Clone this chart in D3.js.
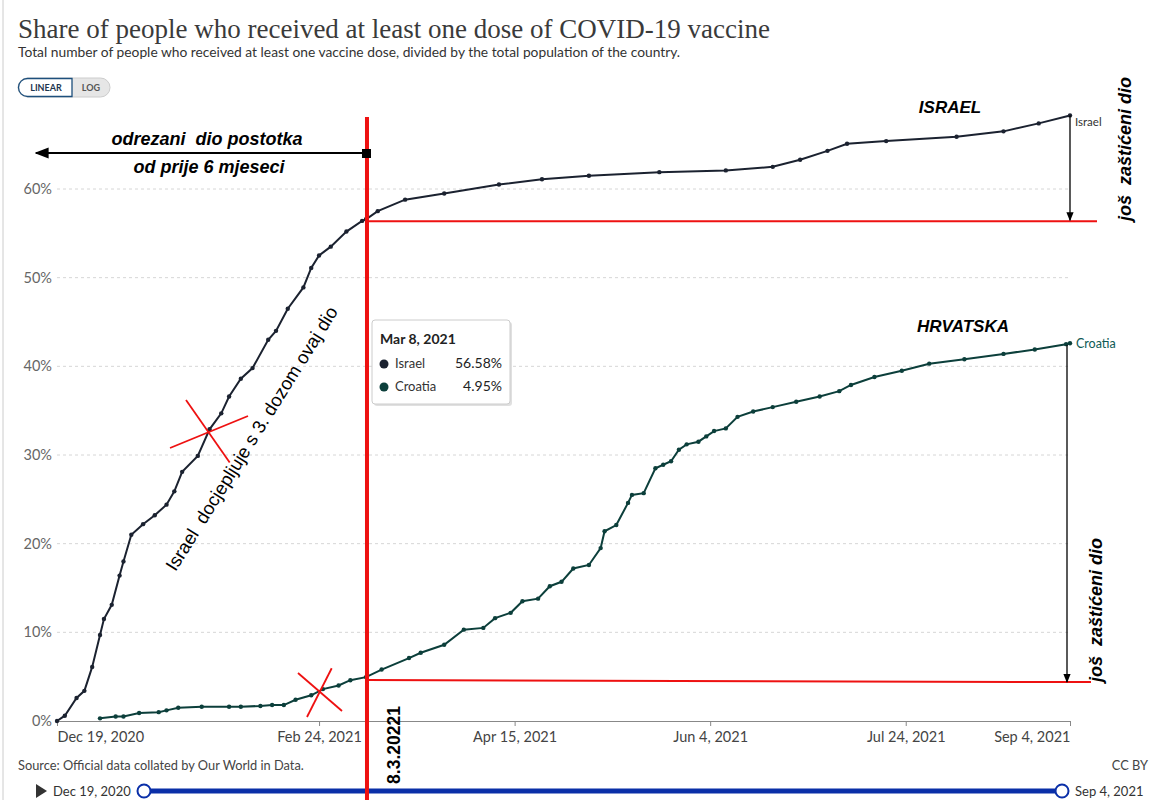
<!DOCTYPE html>
<html lang="en">
<head>
  <meta charset="UTF-8">
  <title>Share of people who received at least one dose of COVID-19 vaccine</title>
  <style>
    body, html {
      margin: 0;
      background-color: #fff;
    }
    #svg {
      display: block;
      font-family: Lato, sans-serif;
    }
  </style>
</head>
<body>
  <svg id="svg" width="1160" height="800"></svg>
  <script src="https://cdn.jsdelivr.net/npm/d3@7"></script>
  <script>
    // values (percent of population)
    const israelDates = ['2020-12-19', '2020-12-21', '2020-12-24', '2020-12-26', '2020-12-28', '2020-12-30',
      '2020-12-31', '2021-01-02', '2021-01-04', '2021-01-05', '2021-01-07', '2021-01-10', '2021-01-13',
      '2021-01-16', '2021-01-18', '2021-01-20', '2021-01-24', '2021-01-27', '2021-01-30', '2021-02-01',
      '2021-02-04', '2021-02-07', '2021-02-11', '2021-02-13', '2021-02-16', '2021-02-20', '2021-02-22',
      '2021-02-24', '2021-02-27', '2021-03-03', '2021-03-07', '2021-03-08', '2021-03-11', '2021-03-18',
      '2021-03-28', '2021-04-11', '2021-04-22', '2021-05-04', '2021-05-22', '2021-06-08', '2021-06-20',
      '2021-06-27', '2021-07-04', '2021-07-09', '2021-07-19', '2021-08-06', '2021-08-18', '2021-08-27',
      '2021-09-04']
    const israelValues = [0, 0.6, 2.6, 3.4, 6.1, 9.7,
      11.5, 13.1, 16.4, 18.0, 21.0, 22.2, 23.2,
      24.4, 25.9, 28.1, 29.9, 32.9, 34.7, 36.6,
      38.6, 39.8, 43.0, 44.0, 46.5, 48.9, 51.1,
      52.5, 53.5, 55.2, 56.4, 56.58, 57.5, 58.8,
      59.5, 60.5, 61.1, 61.5, 61.9, 62.1, 62.5,
      63.3, 64.3, 65.1, 65.4, 65.9, 66.5, 67.4,
      68.3]

    const croatiaDates = ['2020-12-30', '2021-01-03', '2021-01-05', '2021-01-09', '2021-01-14', '2021-01-16',
      '2021-01-19', '2021-01-25', '2021-02-01', '2021-02-04', '2021-02-09', '2021-02-12', '2021-02-15',
      '2021-02-18', '2021-02-22', '2021-02-25', '2021-03-01', '2021-03-04', '2021-03-08', '2021-03-12',
      '2021-03-19', '2021-03-22', '2021-03-28', '2021-04-02', '2021-04-07', '2021-04-10', '2021-04-14',
      '2021-04-17', '2021-04-21', '2021-04-24', '2021-04-27', '2021-04-30', '2021-05-04', '2021-05-07',
      '2021-05-08', '2021-05-11', '2021-05-14', '2021-05-15', '2021-05-18', '2021-05-21', '2021-05-23',
      '2021-05-25', '2021-05-27', '2021-05-29', '2021-06-01', '2021-06-03', '2021-06-05', '2021-06-08',
      '2021-06-11', '2021-06-15', '2021-06-20', '2021-06-26', '2021-07-02', '2021-07-07', '2021-07-10',
      '2021-07-16', '2021-07-23', '2021-07-30', '2021-08-08', '2021-08-18', '2021-08-26', '2021-09-03',
      '2021-09-04']
    const croatiaValues = [0.3, 0.5, 0.5, 0.9, 1.0, 1.2,
      1.5, 1.6, 1.6, 1.6, 1.7, 1.8, 1.8,
      2.4, 2.9, 3.6, 4.0, 4.6, 4.95, 5.8,
      7.1, 7.7, 8.6, 10.3, 10.5, 11.6, 12.2,
      13.5, 13.8, 15.2, 15.7, 17.2, 17.6, 19.5,
      21.4, 22.1, 24.6, 25.5, 25.7, 28.5, 28.9,
      29.3, 30.6, 31.2, 31.5, 32.1, 32.7, 33.0,
      34.3, 34.9, 35.4, 36.0, 36.6, 37.2, 37.9,
      38.8, 39.5, 40.3, 40.8, 41.4, 41.9, 42.5,
      42.6]

    const yTicks = [0, 10, 20, 30, 40, 50, 60]
    const xTickDates = ['2020-12-19', '2021-02-24', '2021-04-15', '2021-06-04', '2021-07-24', '2021-09-04']
    const markedDate = '2021-03-08'

    const parse = d3.timeParse('%Y-%m-%d')
    const fmt = d3.timeFormat('%b %-d, %Y')
    const israel = israelDates.map((d, i) => ({ date: parse(d), value: israelValues[i] }))
    const croatia = croatiaDates.map((d, i) => ({ date: parse(d), value: croatiaValues[i] }))

    const xScale = d3.scaleTime()
      .domain([parse(xTickDates[0]), parse(xTickDates[xTickDates.length - 1])])
      .range([57, 1070])
    const yScale = d3.scaleLinear()
      .domain([0, 60])
      .range([721, 189])

    const svg = d3.select('#svg')

    // frame edge on the left
    svg.append('line').attr('x1', 3).attr('x2', 3).attr('y1', 0).attr('y2', 800)
      .attr('stroke', '#ccc')

    // title + subtitle
    svg.append('text').attr('x', 18).attr('y', 38)
      .text('Share of people who received at least one dose of COVID-19 vaccine')
      .style('font-family', '"Liberation Serif", serif')
      .style('font-size', '27px')
      .attr('fill', '#3a3a3a')
    svg.append('text').attr('x', 18).attr('y', 57)
      .text('Total number of people who received at least one vaccine dose, divided by the total population of the country.')
      .style('font-size', '13.8px')
      .attr('fill', '#333')

    // linear / log toggle
    const tog = svg.append('g').attr('transform', 'translate(18,78)')
    tog.append('rect').attr('x', 0).attr('y', 0).attr('width', 92).attr('height', 19).attr('rx', 9.5)
      .attr('fill', '#e6e6e6').attr('stroke', '#ccc')
    tog.append('path').attr('d', 'M54,0.5 H9.5 A9,9 0 0 0 9.5,18.5 H54 Z')
      .attr('fill', '#fff').attr('stroke', '#1d4f7c').attr('stroke-width', 1.3)
    tog.append('text').attr('x', 28).attr('y', 13).attr('text-anchor', 'middle').text('LINEAR')
      .style('font-size', '9px').style('font-weight', 'bold').attr('fill', '#1d3650')
    tog.append('text').attr('x', 73).attr('y', 13).attr('text-anchor', 'middle').text('LOG')
      .style('font-size', '9px').style('font-weight', 'bold').attr('fill', '#555')

    // gridlines + y labels
    svg.append('g').selectAll('line')
      .data(yTicks.filter(d => d > 0))
      .enter().append('line')
      .attr('x1', 57).attr('x2', 1070)
      .attr('y1', d => yScale(d)).attr('y2', d => yScale(d))
      .attr('stroke', '#d6d6d6').attr('stroke-dasharray', '3,3')
    svg.append('g').selectAll('text')
      .data(yTicks)
      .enter().append('text')
      .attr('x', 52).attr('y', d => yScale(d) + 5)
      .attr('text-anchor', 'end')
      .text(d => d + '%')
      .style('font-size', '14.5px').attr('fill', '#666')

    // x axis
    const xTicks = xTickDates.map(parse)
    const bottomAxis = d3.axisBottom(xScale)
      .tickValues(xTicks)
      .tickFormat(fmt)
      .tickSize(5)
      .tickPadding(6)
    const xg = svg.append('g')
      .attr('transform', `translate(0, ${yScale(0)})`)
      .call(bottomAxis)
    xg.select('.domain').attr('stroke', '#888')
    xg.selectAll('.tick line').attr('stroke', '#888')
    xg.selectAll('.tick text')
      .style('font-family', 'Lato, sans-serif')
      .style('font-size', '14.5px')
      .attr('fill', '#444')
      .attr('text-anchor', (d, i) => i === 0 ? 'start' : (i === xTicks.length - 1 ? 'end' : 'middle'))

    // series lines with point markers
    const line = d3.line().x(d => xScale(d.date)).y(d => yScale(d.value))
    const series = [
      { name: 'Israel', data: israel, color: '#1b2230' },
      { name: 'Croatia', data: croatia, color: '#0c3f3b' }
    ]
    series.forEach(s => {
      svg.append('path').datum(s.data)
        .attr('d', line)
        .attr('fill', 'none')
        .attr('stroke', s.color)
        .attr('stroke-width', 2)
      svg.append('g').selectAll('circle')
        .data(s.data)
        .enter().append('circle')
        .attr('cx', d => xScale(d.date))
        .attr('cy', d => yScale(d.value))
        .attr('r', 2.2)
        .attr('fill', s.color)
    })

    // end labels
    const lastI = israel[israel.length - 1]
    const lastC = croatia[croatia.length - 1]
    svg.append('text').attr('x', xScale(lastI.date) + 5).attr('y', yScale(lastI.value) + 11)
      .text('Israel').style('font-size', '11.5px').attr('fill', '#333')
    svg.append('text').attr('x', xScale(lastC.date) + 6).attr('y', yScale(lastC.value) + 5)
      .text('Croatia').style('font-size', '12.5px').attr('fill', '#0e5a55')

    // source + licence
    svg.append('text').attr('x', 18).attr('y', 770)
      .text('Source: Official data collated by Our World in Data.')
      .style('font-size', '12.8px').attr('fill', '#444')
    svg.append('text').attr('x', 1148).attr('y', 770).attr('text-anchor', 'end')
      .text('CC BY').style('font-size', '12.8px').attr('fill', '#444')

    // timeline slider
    const tl = xScale.domain()
    const slider = d3.scaleTime().domain(tl).range([144, 1062])
    svg.append('path').attr('d', 'M36,784 L47,791 L36,798 Z').attr('fill', '#333')
    svg.append('text').attr('x', 53).attr('y', 796).text(fmt(tl[0]))
      .style('font-size', '13px').attr('fill', '#333')
    svg.append('line').attr('x1', slider(tl[0])).attr('x2', slider(tl[1]))
      .attr('y1', 791).attr('y2', 791)
      .attr('stroke', '#0a2fa8').attr('stroke-width', 5)
    svg.append('g').selectAll('circle')
      .data(tl)
      .enter().append('circle')
      .attr('cx', d => slider(d)).attr('cy', 791).attr('r', 6.5)
      .attr('fill', '#fff').attr('stroke', '#0a2fa8').attr('stroke-width', 2)
    svg.append('text').attr('x', 1075).attr('y', 796).text(fmt(tl[1]))
      .style('font-size', '13px').attr('fill', '#333')

    // ---- hand-drawn annotations ----
    const mDate = parse(markedDate)
    const mx = xScale(mDate)
    const iAt = israel.find(d => +d.date === +mDate).value
    const cAt = croatia.find(d => +d.date === +mDate).value
    const red = '#ee1111'

    // horizontal levels at the marked date
    svg.append('line').attr('x1', mx).attr('x2', 1097)
      .attr('y1', yScale(iAt) + 2).attr('y2', yScale(iAt) + 2)
      .attr('stroke', red).attr('stroke-width', 2)
    svg.append('line').attr('x1', mx).attr('x2', 1091)
      .attr('y1', yScale(cAt) + 3).attr('y2', yScale(cAt) + 5)
      .attr('stroke', red).attr('stroke-width', 2)

    // vertical arrows down to those levels
    const defs = svg.append('defs')
    defs.append('marker').attr('id', 'ah').attr('viewBox', '0 0 10 10')
      .attr('refX', 9).attr('refY', 5).attr('markerWidth', 7).attr('markerHeight', 7)
      .attr('orient', 'auto-start-reverse')
      .append('path').attr('d', 'M0,1 L10,5 L0,9 Z').attr('fill', '#000')
    svg.append('line')
      .attr('x1', xScale(lastI.date)).attr('x2', xScale(lastI.date))
      .attr('y1', yScale(lastI.value)).attr('y2', yScale(iAt) + 1)
      .attr('stroke', '#000').attr('stroke-width', 1.3).attr('marker-end', 'url(#ah)')
    svg.append('line')
      .attr('x1', xScale(lastC.date) - 3).attr('x2', xScale(lastC.date) - 3)
      .attr('y1', yScale(lastC.value) + 2).attr('y2', yScale(cAt) + 5)
      .attr('stroke', '#000').attr('stroke-width', 1.3).attr('marker-end', 'url(#ah)')

    // tooltip box
    const tip = svg.append('g').attr('transform', 'translate(372,320)')
    tip.append('rect').attr('x', 2).attr('y', 2).attr('width', 138).attr('height', 84).attr('rx', 3)
      .attr('fill', '#000').attr('opacity', 0.12)
    tip.append('rect').attr('width', 138).attr('height', 84).attr('rx', 3)
      .attr('fill', '#fff').attr('stroke', '#ccc')
    tip.append('text').attr('x', 8).attr('y', 24).text(fmt(mDate))
      .style('font-size', '14px').style('font-weight', 'bold').attr('fill', '#222')
    const rows = [{ name: 'Israel', v: iAt, color: '#1b2230' }, { name: 'Croatia', v: cAt, color: '#0c3f3b' }]
    rows.forEach((r, i) => {
      const yy = 48 + i * 23
      tip.append('circle').attr('cx', 12).attr('cy', yy - 4).attr('r', 4.5).attr('fill', r.color)
      tip.append('text').attr('x', 23).attr('y', yy).text(r.name)
        .style('font-size', '13px').attr('fill', '#333')
      tip.append('text').attr('x', 130).attr('y', yy).attr('text-anchor', 'end')
        .text(r.v.toFixed(2) + '%').style('font-size', '14px').attr('fill', '#222')
    })

    // red marker line for the chosen date
    svg.append('line').attr('x1', mx + 1).attr('x2', mx + 1).attr('y1', 117).attr('y2', 800)
      .attr('stroke', red).attr('stroke-width', 4)

    // black arrow to the left
    svg.append('line').attr('x1', mx).attr('x2', 36).attr('y1', 153).attr('y2', 153)
      .attr('stroke', '#000').attr('stroke-width', 2).attr('marker-end', 'url(#ah)')
    svg.append('rect').attr('x', mx - 4).attr('y', 149).attr('width', 9).attr('height', 9).attr('fill', '#000')

    const ann = (x, y, txt, size, rot, extra) => {
      const t = svg.append('text')
        .attr('transform', `translate(${x},${y}) rotate(${rot || 0})`)
        .attr('text-anchor', 'middle')
        .text(txt)
        .style('white-space', 'pre')
        .style('font-family', '"Liberation Sans", Arial, sans-serif')
        .style('font-size', size + 'px')
        .attr('fill', '#000')
      if (extra) extra(t)
      return t
    }
    const bi = t => t.style('font-weight', 'bold').style('font-style', 'italic')
    ann(207, 145, 'odrezani  dio postotka', 18, 0, bi)
    ann(209, 173, 'od prije 6 mjeseci', 18, 0, bi)
    ann(950, 113, 'ISRAEL', 17, 0, bi)
    ann(963, 332, 'HRVATSKA', 17, 0, bi)
    ann(1131, 149, 'još  zaštićeni dio', 18, -90, bi)
    ann(1102, 610, 'još  zaštićeni dio', 18, -90, bi)
    ann(400, 745, '8.3.20221', 17.5, -90, t => t.style('font-weight', 'bold'))
    ann(257, 442, 'Israel  docjepljuje s 3. dozom ovaj dio', 18.5, -58)

    // red crosses
    const cross = (cx, cy, a, b) => {
      svg.append('line').attr('x1', cx + a[0]).attr('y1', cy + a[1]).attr('x2', cx - a[0] * 0.9).attr('y2', cy - a[1] * 0.95)
        .attr('stroke', red).attr('stroke-width', 1.8)
      svg.append('line').attr('x1', cx + b[0]).attr('y1', cy + b[1]).attr('x2', cx - b[0]).attr('y2', cy - b[1])
        .attr('stroke', red).attr('stroke-width', 1.8)
    }
    cross(209, 432, [-23, -32], [-39, 16])
    cross(320, 692, [-13, 25], [-22, -19])
  </script>
</body>
</html>
